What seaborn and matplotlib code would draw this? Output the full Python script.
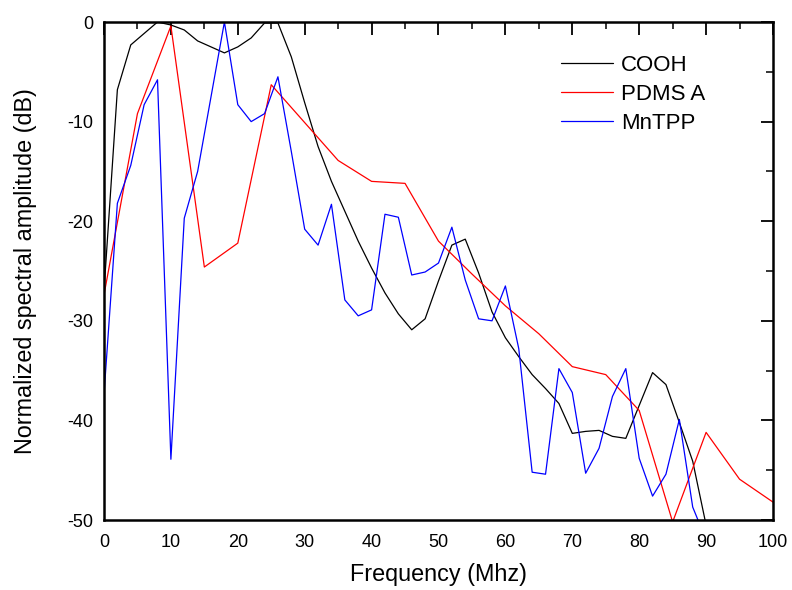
import numpy as np
import pandas as pd
import matplotlib
matplotlib.use("Agg")
import matplotlib.pyplot as plt
import seaborn as sns
from matplotlib.ticker import MultipleLocator

sns.set_theme(style="white")
plt.rcParams['font.family'] = ['Liberation Sans', 'DejaVu Sans']
plt.rcParams['axes.unicode_minus'] = False
plt.rcParams['text.color'] = 'black'
plt.rcParams['axes.labelcolor'] = 'black'
plt.rcParams['xtick.color'] = 'black'
plt.rcParams['ytick.color'] = 'black'

freq_2 = list(range(0, 92, 2))
cooh = [-27, -6.8, -2.3, -1.15, 0, -0.3, -0.8, -1.9, -2.5, -3.1, -2.5, -1.6, -0.1, -0.1,
        -3.5, -8.1, -12.5, -16, -19, -22, -24.7, -27.2, -29.3, -30.9, -29.8, -26,
        -22.4, -21.8, -25.2, -29.1, -31.7, -33.6, -35.4, -36.8, -38.3, -41.3, -41.1,
        -41.0, -41.6, -41.8, -38.5, -35.2, -36.4, -40.2, -44.1, -50.5]
mntpp = [-37.4, -18.2, -14.4, -8.3, -5.8, -43.9, -19.7, -15.0, -7.5, 0, -8.3, -10.0,
         -9.2, -5.5, -13.0, -20.8, -22.4, -18.3, -27.9, -29.5, -28.9, -19.3, -19.6,
         -25.4, -25.1, -24.2, -20.6, -25.9, -29.8, -30.0, -26.5, -32.8, -45.2, -45.4,
         -34.8, -37.2, -45.3, -42.8, -37.6, -34.8, -43.8, -47.6, -45.4, -39.9, -48.7, -52.0]
freq_5 = list(range(0, 105, 5))
pdms = [-27.4, -9.2, -0.4, -24.6, -22.2, -6.3, -10.1, -13.9, -16.0, -16.2, -22.0,
        -25.3, -28.5, -31.3, -34.6, -35.4, -39.0, -50.2, -41.2, -45.9, -48.2]

series_names = ["COOH", "PDMS A", "MnTPP"]
colors = ["#000000", "#FF0000", "#0000FF"]

fig = plt.figure(figsize=(7.92, 5.90), dpi=100)
ax = fig.add_axes([0.1313, 0.1186, 0.976 - 0.1313, 0.9627 - 0.1186])

for name, xs, ys, c in [("COOH", freq_2, cooh, colors[0]),
                        ("PDMS A", freq_5, pdms, colors[1]),
                        ("MnTPP", freq_2, mntpp, colors[2])]:
    df = pd.DataFrame({"f": xs, "v": ys})
    sns.lineplot(data=df, x="f", y="v", ax=ax, color=c, linewidth=0.9,
                 label=name, sort=False, estimator=None)

ax.set_xlim(0, 100)
ax.set_ylim(-50, 0)
ax.xaxis.set_major_locator(MultipleLocator(10))
ax.xaxis.set_minor_locator(MultipleLocator(5))
ax.yaxis.set_major_locator(MultipleLocator(10))
ax.yaxis.set_minor_locator(MultipleLocator(5))
ax.tick_params(which='both', direction='in', top=True, right=True, color='black')
ax.tick_params(which='major', length=9, width=1.3, labelsize=13)
ax.tick_params(which='minor', length=5, width=1.1)
ax.tick_params(axis='x', which='major', pad=10)
ax.tick_params(axis='y', which='major', pad=7.5)
for s in ax.spines.values():
    s.set_color('black')
    s.set_linewidth(1.8)

ax.set_xlabel("Frequency (Mhz)", fontsize=16.8, labelpad=9)
ax.set_ylabel("Normalized spectral amplitude (dB)", fontsize=16.8, labelpad=22)

leg = ax.legend(loc='upper left', bbox_to_anchor=(0.683, 0.934), frameon=False,
                fontsize=16, handlelength=2.34, handletextpad=0.36, labelspacing=0.36,
                borderpad=0, borderaxespad=0)

fig.savefig("out.png", dpi=100)
